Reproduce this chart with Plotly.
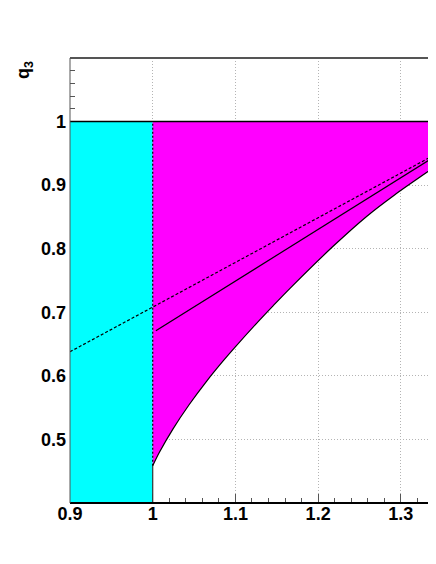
import plotly.graph_objects as go

# lower edge of the allowed (magenta) region
curve_x = [1.0, 1.0081, 1.0242, 1.0444, 1.0646, 1.0849, 1.0999, 1.1253,
           1.1455, 1.1657, 1.2181, 1.2586, 1.2924, 1.3425]
curve_y = [0.4586, 0.4797, 0.5159, 0.5553, 0.5907, 0.6232, 0.6457, 0.6823,
           0.7102, 0.7373, 0.8038, 0.8508, 0.8846, 0.9300]

# solid and dashed straight lines
solid_x = [1.0038, 1.3425]
solid_y = [0.6709, 0.9462]
dashed_x = [0.9, 1.3425]
dashed_y = [0.6379, 0.9489]

# cyan box corners
box_x = [0.9, 1.0]
box_y = [0.4, 1.0]

x_range = [0.9, 1.3425]
y_range = [0.4, 1.1]

x_ticks = [0.9, 1.0, 1.1, 1.2, 1.3]
x_labels = ["0.9", "1", "1.1", "1.2", "1.3"]
y_ticks = [0.5, 0.6, 0.7, 0.8, 0.9, 1.0]
y_labels = ["0.5", "0.6", "0.7", "0.8", "0.9", "1"]

fig = go.Figure()

# cyan region
fig.add_trace(go.Scatter(
    x=[box_x[0], box_x[1], box_x[1], box_x[0], box_x[0]],
    y=[box_y[0], box_y[0], box_y[1], box_y[1], box_y[0]],
    mode="lines", fill="toself", fillcolor="#00ffff",
    line=dict(width=0), showlegend=False, hoverinfo="skip"
))

# magenta region, between q3 = 1 and the curve
fig.add_trace(go.Scatter(
    x=[curve_x[0], curve_x[-1]], y=[1.0, 1.0], mode="lines",
    line=dict(width=0, color="#ff00ff"), showlegend=False, hoverinfo="skip"
))
fig.add_trace(go.Scatter(
    x=curve_x, y=curve_y, mode="lines", fill="tonexty", fillcolor="#ff00ff",
    line=dict(color="black", width=1.2, shape="spline", smoothing=0.8),
    showlegend=False
))

# border lines at x = 1 and q3 = 1
fig.add_trace(go.Scatter(
    x=[box_x[1], box_x[1]], y=[box_y[0], curve_y[0]], mode="lines",
    line=dict(color="#333333", width=1.2), showlegend=False
))
fig.add_trace(go.Scatter(
    x=[box_x[1], box_x[1]], y=[curve_y[0], 1.0], mode="lines",
    line=dict(color="black", width=1.2, dash="2px,2px"), showlegend=False
))
fig.add_trace(go.Scatter(
    x=[box_x[0], x_range[1]], y=[1.0, 1.0], mode="lines",
    line=dict(color="black", width=1.5), showlegend=False
))

fig.add_trace(go.Scatter(
    x=solid_x, y=solid_y, mode="lines",
    line=dict(color="black", width=1.2), showlegend=False
))
fig.add_trace(go.Scatter(
    x=dashed_x, y=dashed_y, mode="lines",
    line=dict(color="black", width=1.2, dash="3px,2px"), showlegend=False
))

# frame lines
fig.add_shape(type="line", xref="paper", yref="paper",
              x0=0, x1=1, y0=1, y1=1,
              line=dict(color="#555555", width=2))
fig.add_shape(type="line", xref="paper", yref="paper",
              x0=0, x1=1, y0=0, y1=0,
              line=dict(color="black", width=2))
fig.add_shape(type="line", xref="paper", yref="paper",
              x0=0, x1=0, y0=0, y1=1,
              line=dict(color="#555555", width=1))

# y axis title
fig.add_annotation(
    text="<b>q<sub>3</sub></b>", textangle=-90,
    xref="paper", yref="paper", x=-0.124, y=0.997,
    xanchor="center", yanchor="top", showarrow=False,
    font=dict(family="Liberation Sans", size=18, color="black")
)

axis_font = dict(family="Liberation Sans", size=18, color="black")
grid_dash = "1px,2px"

fig.update_xaxes(
    range=x_range,
    tickvals=x_ticks,
    ticktext=["<b>%s</b>" % t for t in x_labels],
    tickfont=axis_font, ticklabelstandoff=-2,
    ticks="inside", ticklen=9, tickcolor="#555555", tickwidth=1,
    minor=dict(dtick=0.02, tick0=0.9, ticks="inside", ticklen=5,
               tickcolor="#555555", showgrid=False),
    showgrid=True, gridcolor="#b4b4b4", griddash=grid_dash, gridwidth=1,
    showline=False, zeroline=False, layer="below traces"
)

fig.update_yaxes(
    range=y_range,
    tickvals=y_ticks,
    ticktext=["<b>%s</b>" % t for t in y_labels],
    tickfont=axis_font, ticklabelstandoff=3,
    ticks="inside", ticklen=9, tickcolor="#555555", tickwidth=1,
    minor=dict(dtick=0.02, tick0=0.4, ticks="inside", ticklen=5,
               tickcolor="#555555", showgrid=False),
    showgrid=True, gridcolor="#b4b4b4", griddash=grid_dash, gridwidth=1,
    showline=False, zeroline=False, layer="below traces"
)

# the page body adds an 8px margin, so the figure is shifted up/left by it
fig.update_layout(
    width=428, height=556,
    margin=dict(l=62, r=0, t=50, b=61),
    paper_bgcolor="white", plot_bgcolor="white",
    showlegend=False
)

fig.write_html("out.html")
